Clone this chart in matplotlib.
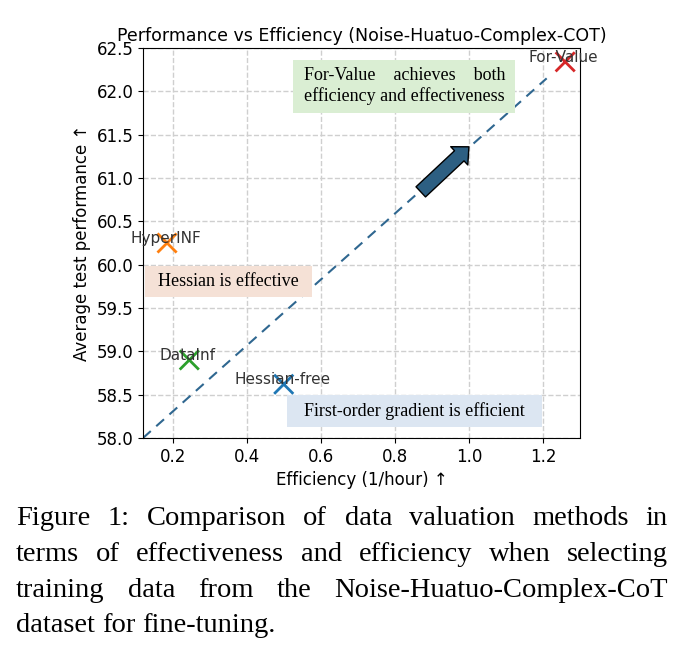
import matplotlib
matplotlib.use('Agg')
import matplotlib.pyplot as plt
from matplotlib.patches import Rectangle

## data
methods = ['Hessian-free', 'HyperINF', 'DataInf', 'For-Value']
efficiency = [0.50, 0.185, 0.245, 1.26]
performance = [58.62, 60.25, 58.90, 62.34]
colors = ['tab:blue', 'tab:orange', 'tab:green', 'tab:red']

# dashed trend line
trend_x = [0.12, 1.21]
trend_y = [58.0, 62.15]

# highlight boxes: (x0, x1, y0, y1) in data units, text, colour
box_text = ['For-Value    achieves    both\nefficiency and effectiveness',
            'Hessian is effective',
            'First-order gradient is efficient']
box_x = [(0.526, 1.125), (0.1245, 0.577), (0.510, 1.197)]
box_y = [(61.753, 62.364), (59.622, 59.979), (58.123, 58.493)]
box_col = ['#daeed3', '#f5e1d6', '#dce6f2']

caption = ['Figure 1: Comparison of data valuation methods in',
           'terms of effectiveness and efficiency when selecting',
           'training data from the Noise-Huatuo-Complex-CoT',
           'dataset for fine-tuning.']

W, H = 687, 656
fig = plt.figure(figsize=(W / 100, H / 100), dpi=100)
ax = fig.add_axes([143 / W, 1 - 438 / H, (580 - 143) / W, (438 - 48) / H])

ax.grid(True, linestyle='--', color='#cfcfcf', linewidth=1)
ax.set_axisbelow(True)

ax.plot(trend_x, trend_y, linestyle='--', color='#2f6790', lw=1.5, dashes=(5, 3.5), zorder=2)

ax.scatter(efficiency, performance, marker='x', s=190, c=colors, linewidths=2, zorder=3)
for m, x, y in zip(methods, efficiency, performance):
    ax.annotate(m, (x, y), xytext=(-1, -2), textcoords='offset points',
                ha='center', va='bottom', fontsize=11, color='#333333', zorder=4)

for txt, (x0, x1), (y0, y1), c in zip(box_text, box_x, box_y, box_col):
    ax.add_patch(Rectangle((x0, y0), x1 - x0, y1 - y0, fc=c, ec='none', zorder=2.5))
    ax.text((x0 + x1) / 2, (y0 + y1) / 2, txt, ha='center', va='center',
            multialignment='left', fontsize=13, family='Liberation Serif',
            linespacing=1.2, zorder=4)

## arrow
ax.annotate('', xy=(1.0, 61.36), xytext=(0.87, 60.84),
            arrowprops=dict(arrowstyle='simple,head_length=0.95,head_width=1.8,tail_width=1.0',
                            mutation_scale=10, fc='#2d5f82', ec='black', lw=1,
                            shrinkA=0, shrinkB=0), zorder=5)

ax.set_xlim(0.12, 1.30)
ax.set_ylim(58.0, 62.5)
ax.set_xticks([0.2, 0.4, 0.6, 0.8, 1.0, 1.2])
ax.set_yticks([58.0, 58.5, 59.0, 59.5, 60.0, 60.5, 61.0, 61.5, 62.0, 62.5])
ax.tick_params(labelsize=12)
ax.set_xlabel('Efficiency (1/hour) ↑', fontsize=12)
ax.set_ylabel('Average test performance ↑', fontsize=12)
ax.set_title('Performance vs Efficiency (Noise-Huatuo-Complex-COT)', fontsize=12.5, pad=5)

## justified caption
r = fig.canvas.get_renderer()
size = 20.5
left, right = 16, 668
baselines = [525, 561, 597, 632]
space = 0.25 * size * 100 / 72
for i, (line, yb) in enumerate(zip(caption, baselines)):
    words = line.split()
    ts = [fig.text(0, 1 - yb / H, w, fontsize=size, family='Liberation Serif', va='baseline')
          for w in words]
    widths = [t.get_window_extent(r).width for t in ts]
    if i == len(caption) - 1:
        gap = space
    else:
        gap = (right - left - sum(widths)) / (len(words) - 1)
    x = left
    for t, w in zip(ts, widths):
        t.set_x(x / W)
        x += w + gap

fig.savefig('out.png', dpi=100)
